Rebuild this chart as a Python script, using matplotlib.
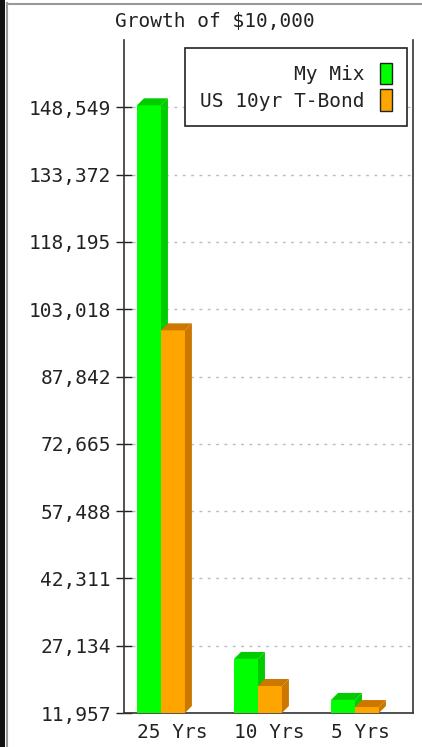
import numpy as np
import matplotlib.pyplot as plt
from matplotlib.patches import Polygon, Rectangle, Patch
from matplotlib.lines import Line2D

categories = ["25 Yrs", "10 Yrs", "5 Yrs"]
my_mix = [149000, 24150, 14900]
t_bond = [98250, 18050, 13300]
series_names = ["My Mix", "US 10yr T-Bond"]
y_ticks = [11957, 27134, 42311, 57488, 72665, 87842, 103018, 118195, 133372, 148549]

front = ["#00ff00", "#ffa500"]
shade = ["#00cc00", "#cc7700"]

plt.rcParams['font.family'] = ['DejaVu Sans Mono']
FS = 14

W, H = 422, 747
fig = plt.figure(figsize=(W / 100, H / 100), dpi=100)
fig.patch.set_facecolor("white")
ax = fig.add_axes([124 / W, 1 - 713 / H, (413 - 124) / W, (713 - 40) / H])

ymin = y_ticks[0]
ymax = y_ticks[0] + 10 * (y_ticks[1] - y_ticks[0])
ax.set_ylim(ymin, ymax)
ax.set_xlim(-0.134, 2.845)

w = 0.247
dx = 0.072
dy = 7 * (ymax - ymin) / 673

x = np.arange(len(categories))
for j, vals in enumerate([my_mix, t_bond]):
    xs = x + j * w
    ax.bar(xs, np.array(vals) - ymin, bottom=ymin, width=w, align="edge",
           color=front[j], edgecolor="none", zorder=3 + j)
    for xi, v in zip(xs, vals):
        top = Polygon([(xi, v), (xi + dx, v + dy), (xi + w + dx, v + dy), (xi + w, v)],
                      closed=True, facecolor=shade[j], edgecolor="none", zorder=3 + j)
        side = Polygon([(xi + w, v), (xi + w + dx, v + dy), (xi + w + dx, ymin + dy),
                        (xi + w, ymin)],
                       closed=True, facecolor=shade[j], edgecolor="none", zorder=3 + j)
        ax.add_patch(top)
        ax.add_patch(side)

ax.set_yticks(y_ticks)
ax.set_yticklabels([f"{t:,}" for t in y_ticks])
ax.set_xticks(x)
ax.set_xticklabels(categories, ha="left")
ax.tick_params(axis="y", direction="inout", length=11, width=1, pad=4,
               labelsize=FS, colors="#222222")
ax.tick_params(axis="x", length=0, pad=7, labelsize=FS, colors="#222222")
ax.yaxis.grid(True, linestyle=(0, (2, 4)), color="#bbbbbb", linewidth=1, zorder=0)
ax.set_axisbelow(True)

ax.spines["top"].set_visible(False)
for s in ["left", "right", "bottom"]:
    ax.spines[s].set_color("#333333")
    ax.spines[s].set_linewidth(1.2)

fig.text(215 / W, 1 - 22 / H, "Growth of $10,000", ha="center", va="center",
         fontsize=FS, color="#222222")

handles = [Patch(facecolor=front[i], edgecolor="#222222", linewidth=1) for i in range(2)]
leg = ax.legend(handles, series_names, loc="upper right",
                bbox_to_anchor=(407 / W, 1 - 48 / H), bbox_transform=fig.transFigure,
                borderaxespad=0, markerfirst=False, fancybox=False, framealpha=1,
                edgecolor="#222222", fontsize=FS, handlelength=0.65, handleheight=1.35,
                handletextpad=0.8, labelspacing=0.25, borderpad=0.75)
leg.get_frame().set_linewidth(1.2)
for t in leg.get_texts():
    t.set_ha("right")
    t.set_color("#222222")

# window border
fig.add_artist(Rectangle((0, 0), 5 / W, 1, transform=fig.transFigure,
                         facecolor="#111111", edgecolor="none"))
fig.add_artist(Line2D([6.5 / W, 6.5 / W], [0, 1 - 3 / H], transform=fig.transFigure,
                      color="#999999", linewidth=1.5))
fig.add_artist(Line2D([6.5 / W, 1], [1 - 3.5 / H, 1 - 3.5 / H], transform=fig.transFigure,
                      color="#999999", linewidth=1.5))

fig.savefig("out.png", dpi=100)
